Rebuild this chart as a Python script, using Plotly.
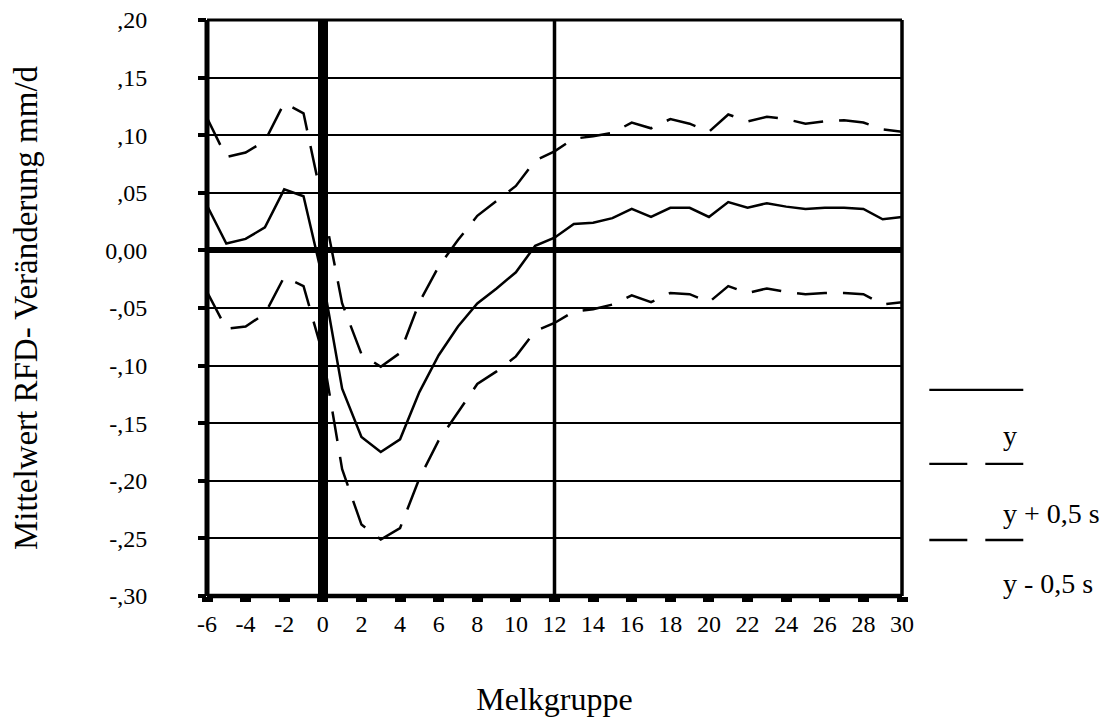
import plotly.graph_objects as go

FONT = "Liberation Serif"

# Melkgruppe -6 .. 30
melkgruppe = [-6, -5, -4, -3, -2, -1, 0, 1, 2, 3, 4, 5, 6, 7, 8, 9, 10, 11, 12,
              13, 14, 15, 16, 17, 18, 19, 20, 21, 22, 23, 24, 25, 26, 27, 28, 29, 30]
mittelwert = [0.039, 0.006, 0.010, 0.020, 0.053, 0.047, -0.025, -0.120, -0.162, -0.175,
              -0.164, -0.123, -0.091, -0.066, -0.046, -0.033, -0.019, 0.004, 0.011,
              0.023, 0.024, 0.028, 0.036, 0.029, 0.037, 0.037, 0.029, 0.042, 0.037,
              0.041, 0.038, 0.036, 0.037, 0.037, 0.036, 0.027, 0.029]
plus_halb_s = [0.115, 0.081, 0.085, 0.095, 0.128, 0.119, 0.040, -0.046, -0.090, -0.101,
               -0.089, -0.045, -0.014, 0.009, 0.030, 0.043, 0.056, 0.078, 0.086,
               0.097, 0.099, 0.102, 0.111, 0.106, 0.114, 0.110, 0.103, 0.118, 0.112,
               0.116, 0.114, 0.110, 0.112, 0.113, 0.111, 0.105, 0.103]
minus_halb_s = [-0.036, -0.068, -0.066, -0.055, -0.023, -0.031, -0.090, -0.190, -0.238, -0.251,
                -0.241, -0.198, -0.165, -0.141, -0.116, -0.105, -0.092, -0.070, -0.063,
                -0.053, -0.051, -0.047, -0.039, -0.045, -0.037, -0.038, -0.045, -0.031, -0.037,
                -0.033, -0.036, -0.038, -0.037, -0.037, -0.038, -0.047, -0.045]

x_tickvals = [-6, -4, -2, 0, 2, 4, 6, 8, 10, 12, 14, 16, 18, 20, 22, 24, 26, 28, 30]
x_ticktext = ["-6", "-4", "-2", "0", "2", "4", "6", "8", "10", "12", "14", "16", "18",
              "20", "22", "24", "26", "28", "30"]
y_tickvals = [0.20, 0.15, 0.10, 0.05, 0.00, -0.05, -0.10, -0.15, -0.20, -0.25, -0.30]
y_ticktext = [",20", ",15", ",10", ",05", "0,00", "-,05", "-,10", "-,15", "-,20", "-,25", "-,30"]

legend_labels = ["y", "y + 0,5 s", "y - 0,5 s"]

DASH = "30px,16px"

fig = go.Figure()
fig.add_scatter(x=melkgruppe, y=mittelwert, mode="lines", name=legend_labels[0],
                line=dict(color="black", width=2.5), showlegend=False)
fig.add_scatter(x=melkgruppe, y=plus_halb_s, mode="lines", name=legend_labels[1],
                line=dict(color="black", width=2.5, dash=DASH), showlegend=False)
fig.add_scatter(x=melkgruppe, y=minus_halb_s, mode="lines", name=legend_labels[2],
                line=dict(color="black", width=2.5, dash=DASH), showlegend=False)

# reference line at Melkgruppe 12
fig.add_vline(x=12, line=dict(color="black", width=3.5), layer="above")

# frame: heavy left/bottom axes, lighter top/right
frame = [
    dict(x0=0, x1=0, y0=0, y1=1, width=5),
    dict(x0=0, x1=1, y0=0, y1=0, width=4.5),
    dict(x0=0, x1=1, y0=1, y1=1, width=3),
    dict(x0=1, x1=1, y0=0, y1=1, width=3.5),
]
for f in frame:
    fig.add_shape(type="line", xref="paper", yref="paper",
                  x0=f["x0"], x1=f["x1"], y0=f["y0"], y1=f["y1"],
                  line=dict(color="black", width=f["width"]))

# hand-built legend: line sample on top, label underneath (SPSS style)
lx0, lx1 = 1.0393, 1.1745
legend_rows = [(0.3579, "solid", 0.278), (0.2294, "38px,18px", 0.1425), (0.0973, "38px,18px", 0.0209)]
for (ly, dash, ty), label in zip(legend_rows, legend_labels):
    fig.add_shape(type="line", xref="paper", yref="paper", x0=lx0, x1=lx1, y0=ly, y1=ly,
                  line=dict(color="black", width=2.4, dash=dash))
    fig.add_annotation(text=label, xref="paper", yref="paper", x=1.1430, y=ty,
                       xanchor="left", yanchor="middle", showarrow=False,
                       font=dict(family=FONT, size=28, color="black"))

# page body adds ~8px offset, so margins are trimmed accordingly
fig.update_layout(
    width=1109, height=720,
    margin=dict(l=199, r=215, t=12, b=132),
    paper_bgcolor="white", plot_bgcolor="white",
    font=dict(family=FONT, color="black"),
    xaxis=dict(
        range=[-6, 30], tickvals=x_tickvals, ticktext=x_ticktext,
        ticks="outside", ticklen=5, tickwidth=11, tickcolor="black",
        ticklabelstandoff=1, ticklabeloverflow="allow",
        tickfont=dict(family=FONT, size=24, color="black"),
        showgrid=False, showline=False, automargin=False,
        zeroline=True, zerolinecolor="black", zerolinewidth=10,
        title=dict(text="Melkgruppe", font=dict(family=FONT, size=32, color="black"), standoff=51),
    ),
    yaxis=dict(
        range=[-0.30, 0.20], tickvals=y_tickvals, ticktext=y_ticktext,
        ticks="outside", ticklen=8, tickwidth=4, tickcolor="black",
        ticklabelstandoff=46, ticklabeloverflow="allow", automargin=False,
        tickfont=dict(family=FONT, size=24, color="black"),
        showgrid=True, gridcolor="black", gridwidth=1.6,
        showline=False,
        zeroline=True, zerolinecolor="black", zerolinewidth=5.5,
        title=dict(text="Mittelwert RFD- Veränderung mm/d",
                   font=dict(family=FONT, size=33, color="black"), standoff=60),
    ),
)

fig.write_html("out.html")
